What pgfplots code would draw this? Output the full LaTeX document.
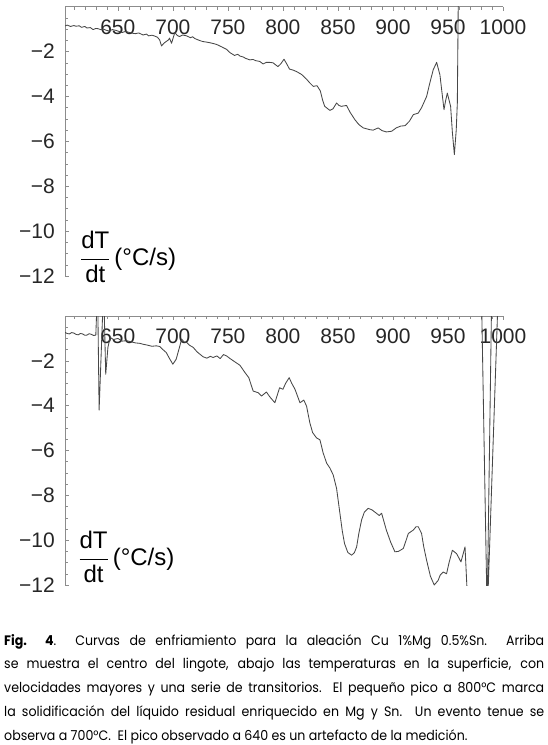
\documentclass[border=0pt]{standalone}
\usepackage{fontspec}
\usepackage{pgfplots}
\pgfplotsset{compat=1.18}
\setmainfont{Liberation Sans}
\newfontfamily\capfont[FakeStretch=0.92]{Poppins}

\pgfplotsset{
  dta/.style={
    scale only axis, width=438pt,
    xmin=602, xmax=1000, ymin=-12, ymax=0,
    axis x line=top, axis y line=left,
    axis line style={-, black!45, line width=0.6pt},
    xtick={650,700,...,1000},
    xticklabels={650,700,750,800,850,900,950,1000},
    minor xtick={610,620,...,990},
    ytick={-12,-10,-8,-6,-4,-2},
    yticklabels={−12,−10,−8,−6,−4,−2},
    minor ytick={-11.5,-11,...,-0.5},
    tick align=inside, major tick length=4pt, minor tick length=3pt,
    tick style={black!45, line width=0.5pt},
    xticklabel style={anchor=north, inner sep=0pt, yshift=-13pt},
    yticklabel style={anchor=east, inner sep=0pt, xshift=-10pt},
    tick label style={font=\fontsize{21}{21}\selectfont, text=black!85},
    clip mode=individual,
  },
  crv/.style={black!72, line width=0.85pt, line join=round},
}

\begin{document}
\begin{tikzpicture}
\useasboundingbox (0pt,0pt) rectangle (547pt,-745pt);

% centro del lingote
\begin{axis}[dta, at={(65pt,-6.7pt)}, anchor=north west, height=269.3pt]
  \addplot[crv] coordinates {
    (601.8,-0.86) (604,-0.82) (607,-0.88) (610,-0.84) (612,-0.87) (615,-0.85)
    (617,-0.92) (620,-0.88) (622,-0.95) (625,-0.93) (627.5,-1.02) (630,-0.97)
    (632,-0.98) (635,-1.03) (637,-1.0) (640,-1.06) (642,-1.08) (645,-1.02)
    (648,-1.05) (651,-1.1) (654,-1.15) (657,-1.1) (660,-1.14) (663,-1.18)
    (666,-1.2) (669,-1.17) (673,-1.26) (676,-1.22) (678,-1.3) (681,-1.27)
    (683,-1.3) (686,-1.36) (688,-1.48) (689.7,-1.75) (692,-1.62) (694,-1.55)
    (696,-1.48) (697,-1.4) (698.8,-1.63) (701.8,-1.15) (704,-1.28) (706,-1.33)
    (709,-1.26) (712.5,-1.3) (716,-1.38) (718,-1.34) (720,-1.42) (724,-1.5)
    (727,-1.55) (731,-1.58) (735,-1.62) (739.7,-1.68) (744,-1.78) (748.8,-1.9)
    (752,-2.05) (756,-2.17) (759,-2.12) (761,-2.2) (764,-2.24) (766,-2.3)
    (770,-2.37) (773,-2.35) (775,-2.4) (779,-2.44) (782,-2.55) (785,-2.48)
    (788,-2.48) (791,-2.5) (795.5,-2.67) (798,-2.55) (801,-2.34) (803.5,-2.55)
    (806,-2.78) (809,-2.82) (812.4,-2.89) (817,-3.02) (821.5,-3.23) (824.5,-3.4)
    (827.6,-3.55) (831,-3.52) (834,-3.75) (836,-4.15) (838,-4.44) (842.7,-4.62)
    (845.5,-4.55) (848.8,-4.29) (851,-4.4) (853,-4.44) (857.8,-4.4) (861,-4.7)
    (865.5,-5.04) (869,-5.25) (873,-5.4) (879,-5.48) (882,-5.5) (886.6,-5.4)
    (890,-5.52) (894,-5.58) (898.8,-5.55) (903,-5.4) (907,-5.32) (911,-5.3)
    (915,-5.1) (918.5,-4.81) (923,-4.74) (926,-4.5) (930.6,-4.0) (933.5,-3.4)
    (936.6,-2.81) (939.7,-2.48) (942.7,-3.04) (944.5,-3.8) (946.4,-4.59)
    (947.8,-4.2) (949.4,-3.85) (952.4,-4.44) (954,-5.6) (955.8,-6.59)
    (957.5,-5.5) (958.5,-4.3) (959.4,0.5)
  };
  \node[anchor=west, inner sep=0pt, font=\fontsize{24}{24}\selectfont]
    at (axis cs:615.5,-11.14) {$\displaystyle\frac{\mbox{dT}}{\mbox{dt}}$\,(°C/s)};
\end{axis}

% superficie
\begin{axis}[dta, at={(65pt,-316pt)}, anchor=north west, height=269pt]
  \addplot[crv] coordinates {
    (601.8,-0.73) (604,-0.78) (606,-0.8) (608,-0.74) (610,-0.76) (612,-0.82)
    (614,-0.84) (616,-0.78) (618,-0.8) (620,-0.86) (622,-0.85) (624,-0.79)
    (626,-0.82) (628,-0.87) (630,-0.85) (631,0.5) (631.8,0.5) (633,-4.2)
    (636.5,0.5) (637.5,0.5) (639,-2.6) (641,-1.4) (643,-0.95) (646,-1.05)
    (650,-1.0) (654,-1.12) (658,-1.1) (662,-1.15) (666,-1.2) (670,-1.22)
    (673,-1.26) (677,-1.3) (681,-1.35) (685,-1.33) (688,-1.36) (691,-1.5)
    (694,-1.63) (697,-1.9) (700,-2.15) (703,-1.93) (706,-1.4) (708,-1.03)
    (710,-1.15) (712.5,-1.18) (715,-1.3) (718.5,-1.4) (722,-1.6) (727.5,-1.82)
    (731,-1.88) (734,-1.8) (736.6,-1.85) (740,-1.78) (743,-1.9) (746,-1.72)
    (748.8,-1.78) (752,-1.9) (755,-2.0) (761,-2.2) (765.5,-2.52) (769,-2.75)
    (773,-3.35) (777.5,-3.42) (780.6,-3.57) (785,-3.39) (788,-3.6) (792.7,-3.87)
    (797,-3.2) (800,-3.27) (802.5,-3.0) (805.7,-2.75) (808,-3.0) (811,-3.27)
    (815.5,-3.87) (819,-3.75) (821.5,-4.02) (824.5,-4.77) (827,-5.2) (830.6,-5.44)
    (833.6,-5.52) (836.6,-6.11) (839.7,-6.56) (842.7,-6.78) (845.7,-7.09)
    (848.8,-7.7) (851.8,-8.8) (854,-9.6) (856,-10.15) (859,-10.55) (862.5,-10.67)
    (865,-10.55) (867,-10.3) (869,-9.7) (871.5,-9.1) (874,-8.75) (877.5,-8.58)
    (881,-8.65) (885,-8.8) (887.5,-8.9) (889.7,-8.8) (892,-9.2) (894,-9.55)
    (898,-10.1) (901.8,-10.52) (905,-10.5) (909.4,-10.37) (912,-10.0) (914,-9.7)
    (918.5,-9.55) (921,-9.4) (923,-9.4) (926,-9.7) (928,-10.3) (930.6,-10.9)
    (934,-11.6) (937.5,-12.0) (941,-11.8) (943,-11.55) (945.7,-11.42)
    (948.7,-11.5) (951,-11.0) (954,-10.45) (957.8,-10.6) (960,-10.8)
    (961.8,-10.97) (965.5,-10.3) (967.6,-12.5) (985.3,-12.5) (980.6,0.5)
    (989.6,0.5) (985.8,-12.5) (986.3,-12.5) (995.3,0.5)
  };
  \node[anchor=west, inner sep=0pt, font=\fontsize{24}{24}\selectfont]
    at (axis cs:614,-10.75) {$\displaystyle\frac{\mbox{dT}}{\mbox{dt}}$\,(°C/s)};
\end{axis}

\node[anchor=base west, inner sep=0pt] at (4pt,-645pt) {\parbox[t]{540pt}{%
  \capfont\fontsize{13.7}{23.8}\selectfont
  \textbf{Fig. 4}.\ \ Curvas de enfriamiento para la aleación Cu 1\%Mg 0.5\%Sn.\ \ Arriba\linebreak
  se muestra el centro del lingote, abajo las temperaturas en la superficie, con\linebreak
  velocidades mayores y una serie de transitorios. El pequeño pico a 800°C marca\linebreak
  la solidificación del líquido residual enriquecido en Mg y Sn. Un evento tenue se\linebreak
  observa a 700°C.\ \ El pico observado a 640 es un artefacto de la medición.}};
\end{tikzpicture}
\end{document}
